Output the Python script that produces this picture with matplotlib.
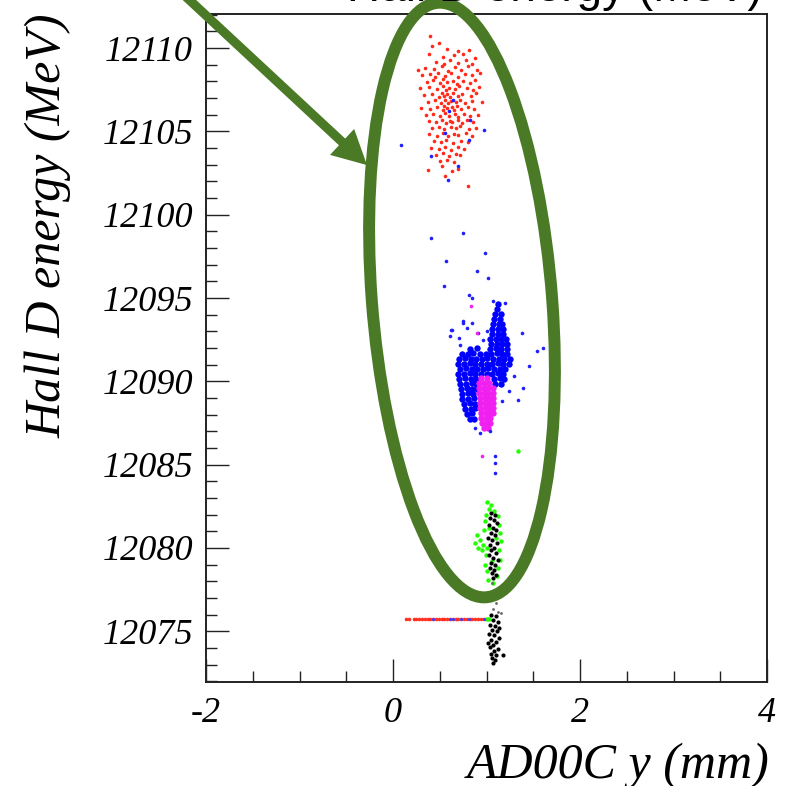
import numpy as np
import matplotlib
matplotlib.use("Agg")
import matplotlib.pyplot as plt
from matplotlib.patches import Ellipse
from matplotlib.ticker import MultipleLocator

## DATA (x = AD00C y in mm, y = Hall D energy in MeV)

red_pts = [
    (0.40, 12110.72), (0.42, 12110.15), (0.49, 12110.28),
    (0.58, 12109.95), (0.70, 12109.82), (0.81, 12109.91),
    (0.38, 12109.62), (0.53, 12109.48), (0.65, 12109.58), (0.75, 12109.66), (0.88, 12109.41),
    (0.46, 12109.18), (0.55, 12109.05), (0.61, 12109.27), (0.69, 12109.12), (0.78, 12109.31), (0.84, 12109.02),
    (0.27, 12108.71), (0.34, 12108.83), (0.44, 12108.76), (0.52, 12108.91), (0.59, 12108.64), (0.66, 12108.87),
    (0.73, 12108.70), (0.80, 12108.95), (0.90, 12108.66),
    (0.31, 12108.38), (0.40, 12108.47), (0.45, 12108.25), (0.48, 12108.52), (0.56, 12108.33), (0.62, 12108.49),
    (0.70, 12108.28), (0.77, 12108.42), (0.85, 12108.36), (0.93, 12108.51),
    (0.36, 12107.95), (0.43, 12108.08), (0.50, 12107.89), (0.54, 12108.12), (0.58, 12107.97), (0.64, 12108.05),
    (0.68, 12107.84), (0.75, 12108.02), (0.82, 12107.91), (0.88, 12108.10),
    (0.29, 12107.58), (0.39, 12107.66), (0.47, 12107.52), (0.53, 12107.71), (0.57, 12107.48), (0.60, 12107.63),
    (0.66, 12107.55), (0.71, 12107.74), (0.79, 12107.60), (0.86, 12107.49), (0.92, 12107.68),
    (0.33, 12107.18), (0.42, 12107.26), (0.49, 12107.09), (0.52, 12107.31), (0.55, 12107.15), (0.58, 12107.24),
    (0.61, 12107.05), (0.64, 12107.28), (0.69, 12107.13), (0.74, 12107.22), (0.83, 12107.10), (0.89, 12107.29),
    (0.37, 12106.79), (0.45, 12106.86), (0.51, 12106.72), (0.56, 12106.91), (0.59, 12106.68), (0.62, 12106.83),
    (0.67, 12106.75), (0.72, 12106.88), (0.77, 12106.70), (0.84, 12106.82), (0.95, 12106.74),
    (0.30, 12106.42), (0.40, 12106.35), (0.47, 12106.48), (0.53, 12106.31), (0.55, 12106.52), (0.58, 12106.39),
    (0.63, 12106.45), (0.65, 12106.28), (0.68, 12106.50), (0.73, 12106.37), (0.80, 12106.44), (0.87, 12106.33),
    (0.35, 12105.98), (0.43, 12106.05), (0.50, 12105.92), (0.56, 12106.08), (0.60, 12105.95), (0.66, 12106.02),
    (0.70, 12105.89), (0.76, 12106.06), (0.82, 12105.94), (0.91, 12106.01),
    (0.39, 12105.62), (0.46, 12105.55), (0.52, 12105.68), (0.57, 12105.51), (0.61, 12105.64), (0.63, 12105.58),
    (0.69, 12105.70), (0.74, 12105.53), (0.79, 12105.66), (0.86, 12105.57),
    (0.42, 12105.21), (0.49, 12105.28), (0.55, 12105.14), (0.62, 12105.25), (0.67, 12105.18), (0.72, 12105.30),
    (0.81, 12105.16), (0.89, 12105.23),
    (0.38, 12104.82), (0.47, 12104.75), (0.53, 12104.88), (0.59, 12104.71), (0.65, 12104.84), (0.70, 12104.77),
    (0.78, 12104.90), (0.84, 12104.73),
    (0.44, 12104.42), (0.51, 12104.35), (0.57, 12104.48), (0.64, 12104.31), (0.73, 12104.44), (0.80, 12104.38),
    (0.41, 12104.02), (0.49, 12103.95), (0.56, 12104.08), (0.62, 12103.91), (0.69, 12104.04), (0.76, 12103.97),
    (0.46, 12103.61), (0.53, 12103.68), (0.60, 12103.55), (0.67, 12103.64), (0.72, 12103.58),
    (0.50, 12103.21), (0.58, 12103.28), (0.65, 12103.15),
    (0.37, 12102.70), (0.52, 12102.90), (0.63, 12102.62), (0.70, 12102.72),
    (0.56, 12102.30), (0.80, 12101.72),
]

# scattered blue hits (around the red cloud and above the main blob)
blue_sparse = [
    (0.645, 12106.9), (0.60, 12106.2), (0.82, 12105.7), (0.97, 12105.1), (0.56, 12104.9),
    (0.81, 12104.5), (0.41, 12103.5), (0.69, 12102.9), (0.59, 12102.1), (0.086, 12104.2),
    (0.41, 12098.6), (0.75, 12098.9), (0.98, 12097.7), (0.57, 12097.2), (0.90, 12096.6),
    (1.02, 12096.2), (0.55, 12095.7), (0.81, 12095.2), (0.85, 12095.0), (1.07, 12094.8),
    (1.20, 12094.7), (0.75, 12093.6), (0.63, 12093.1), (1.38, 12092.9),
    (0.62, 12093.1), (0.61, 12092.7), (0.71, 12092.6), (0.72, 12092.2), (0.75, 12093.5),
    (0.84, 12093.5), (0.79, 12093.2), (0.91, 12092.9), (1.00, 12093.0), (0.96, 12092.5),
    (1.54, 12091.8), (1.60, 12092.0), (1.45, 12090.9), (1.39, 12089.6), (1.34, 12088.9),
    (1.24, 12089.4), (1.29, 12090.3), (1.17, 12088.8),
    (0.88, 12087.2), (0.93, 12086.9), (1.04, 12087.0),
    (1.09, 12085.5), (1.09, 12085.1), (1.09, 12084.5),
]

# dense blue blob near 12090 MeV
blue_dense = [
    (0.74, 12091.65), (0.80, 12091.62), (0.86, 12091.68), (0.93, 12091.64), (0.99, 12091.66), (1.05, 12091.63),
    (1.11, 12091.67), (1.17, 12091.64), (1.22, 12091.61),
    (0.71, 12091.35), (0.77, 12091.37), (0.83, 12091.33), (0.89, 12091.36), (0.95, 12091.34), (1.01, 12091.38),
    (1.07, 12091.35), (1.13, 12091.32), (1.19, 12091.36), (1.25, 12091.34),
    (0.70, 12091.05), (0.76, 12091.03), (0.82, 12091.07), (0.88, 12091.04), (0.94, 12091.06), (1.00, 12091.02),
    (1.06, 12091.05), (1.12, 12091.08), (1.18, 12091.04), (1.24, 12091.06),
    (0.72, 12090.75), (0.78, 12090.77), (0.84, 12090.73), (0.90, 12090.76), (0.96, 12090.74), (1.02, 12090.78),
    (1.08, 12090.75), (1.14, 12090.72), (1.20, 12090.76),
    (0.70, 12090.45), (0.76, 12090.43), (0.82, 12090.47), (0.88, 12090.44), (0.94, 12090.46), (1.00, 12090.42),
    (1.06, 12090.45), (1.12, 12090.48), (1.18, 12090.44),
    (0.71, 12090.15), (0.77, 12090.17), (0.83, 12090.13), (0.89, 12090.16), (1.08, 12090.14), (1.14, 12090.18),
    (1.19, 12090.12),
    (0.72, 12089.85), (0.78, 12089.83), (0.84, 12089.87), (0.89, 12089.84), (1.09, 12089.86), (1.15, 12089.82),
    (0.73, 12089.55), (0.79, 12089.57), (0.85, 12089.53), (0.90, 12089.56),
    (0.74, 12089.25), (0.80, 12089.27), (0.86, 12089.23),
    (0.74, 12088.95), (0.80, 12088.93), (0.87, 12088.97),
    (0.76, 12088.65), (0.82, 12088.67), (0.88, 12088.63),
    (0.77, 12088.35), (0.83, 12088.33), (0.88, 12088.37),
    (0.79, 12088.05), (0.85, 12088.07),
    (0.82, 12087.75), (0.87, 12087.72),
    # upper column
    (1.04, 12091.95), (1.10, 12091.97), (1.16, 12091.93), (1.22, 12091.96), (0.82, 12091.94), (0.90, 12091.98),
    (1.05, 12092.25), (1.11, 12092.27), (1.17, 12092.23), (1.22, 12092.26),
    (1.04, 12092.55), (1.10, 12092.57), (1.16, 12092.53), (1.21, 12092.56),
    (1.06, 12092.85), (1.12, 12092.83), (1.18, 12092.87),
    (1.06, 12093.15), (1.12, 12093.17), (1.18, 12093.13),
    (1.07, 12093.45), (1.13, 12093.43), (1.17, 12093.47),
    (1.08, 12093.75), (1.14, 12093.77),
    (1.09, 12094.05), (1.15, 12094.03),
    (1.11, 12094.35), (1.12, 12094.65),
]

magenta_dense = [
    (0.94, 12090.2), (1.00, 12090.2),
    (0.92, 12089.9), (0.97, 12089.9), (1.03, 12089.9),
    (0.92, 12089.6), (0.97, 12089.6), (1.02, 12089.6), (1.07, 12089.6),
    (0.92, 12089.3), (0.97, 12089.3), (1.02, 12089.3), (1.07, 12089.3),
    (0.93, 12089.0), (0.98, 12089.0), (1.03, 12089.0), (1.07, 12089.0),
    (0.93, 12088.7), (0.98, 12088.7), (1.03, 12088.7), (1.07, 12088.7),
    (0.93, 12088.4), (0.98, 12088.4), (1.03, 12088.4), (1.07, 12088.4),
    (0.94, 12088.1), (0.99, 12088.1), (1.04, 12088.1), (1.07, 12088.1),
    (0.94, 12087.8), (0.99, 12087.8), (1.04, 12087.8),
    (0.95, 12087.5), (1.00, 12087.5), (1.04, 12087.5),
    (0.97, 12087.2), (1.02, 12087.2),
]
magenta_sparse = [(0.83, 12094.5), (0.90, 12092.9), (0.95, 12085.5)]

green_pts = [
    (1.01, 12082.75), (1.05, 12082.6), (1.03, 12082.35), (1.08, 12082.2), (0.99, 12082.0), (1.12, 12081.9),
    (0.98, 12081.6), (1.13, 12081.4), (0.97, 12081.1), (1.14, 12080.9), (0.90, 12080.75), (0.93, 12080.5),
    (0.88, 12080.3), (0.96, 12080.2), (0.91, 12080.0), (0.95, 12079.85), (1.15, 12080.4), (1.13, 12079.9),
    (0.99, 12079.6), (1.14, 12079.3), (0.98, 12079.0), (1.12, 12078.8), (1.00, 12078.6), (1.11, 12078.3),
    (1.02, 12078.1), (1.07, 12077.9), (1.03, 12081.2), (1.10, 12080.6), (1.01, 12080.0), (1.06, 12079.2),
    (1.34, 12085.8), (1.00, 12075.74), (1.03, 12075.74),
]

black_pts = [
    # column inside the green hits
    (1.05, 12082.1), (1.09, 12081.95), (1.04, 12081.8), (1.08, 12081.65), (1.11, 12081.5), (1.03, 12081.35),
    (1.07, 12081.2), (1.10, 12081.05), (1.05, 12080.9), (1.09, 12080.75), (1.02, 12080.6), (1.06, 12080.45),
    (1.11, 12080.3), (1.04, 12080.15), (1.08, 12080.0), (1.05, 12079.85), (1.10, 12079.7), (1.03, 12079.55),
    (1.07, 12079.4), (1.12, 12079.25), (1.05, 12079.1), (1.09, 12078.95), (1.04, 12078.8), (1.08, 12078.65),
    (1.06, 12078.5), (1.10, 12078.35), (1.07, 12078.2),
    # column below the red row
    (1.05, 12076.0), (1.10, 12075.9), (1.07, 12075.7), (1.12, 12075.55), (1.04, 12075.4), (1.09, 12075.3),
    (1.06, 12075.1), (1.11, 12075.0), (1.03, 12074.85), (1.08, 12074.75), (1.13, 12074.6), (1.05, 12074.5),
    (1.10, 12074.35), (1.07, 12074.2), (1.04, 12074.05), (1.12, 12073.95), (1.08, 12073.8), (1.05, 12073.65),
    (1.10, 12073.55), (1.06, 12073.4), (1.09, 12073.25), (1.07, 12073.1), (1.18, 12073.6), (1.13, 12075.2),
    (1.02, 12074.3),
]
gray_pts = [(1.06, 12077.9), (1.08, 12077.5), (1.09, 12077.1), (1.10, 12076.7), (1.07, 12076.35),
            (1.15, 12076.1), (1.12, 12076.15)]

# red row at 12075.7 MeV
red_row_x = [0.14, 0.17, 0.22, 0.25, 0.28, 0.31, 0.34, 0.37, 0.40, 0.43, 0.46, 0.49, 0.52, 0.55,
             0.58, 0.61, 0.64, 0.67, 0.70, 0.73, 0.76, 0.79, 0.82, 0.85, 0.88, 0.91, 0.94, 0.97]
red_row_e = 12075.74
blue_row_x = [0.43, 0.61, 0.64, 0.73, 0.81, 0.97]

x_ticks = [-2, 0, 2, 4]
y_ticks = [12075, 12080, 12085, 12090, 12095, 12100, 12105, 12110]

GREEN = '#4b7a26'

plt.rcParams['font.family'] = 'Liberation Serif'
plt.rcParams['font.style'] = 'italic'
plt.rcParams['axes.unicode_minus'] = False

fig = plt.figure(figsize=(7.85, 7.86), dpi=100)
ax = fig.add_axes([206/785, 1 - 682/786, 561/785, 668/786])


def dots(pts, color, ms, z=3):
    p = np.array(pts)
    ax.plot(p[:, 0], p[:, 1], 'o', ms=ms, mew=0, color=color, zorder=z)


dots(red_pts, '#ff2a1a', 2.6)
dots(blue_dense, '#0000ff', 4.6)
dots(magenta_dense, '#f020f0', 4.6)
dots(blue_sparse, '#2020ff', 2.6)
dots(magenta_sparse, '#f020f0', 2.6)
dots(green_pts, '#22ff00', 3.2)
dots(black_pts, 'black', 3.0)
dots(gray_pts, '#666666', 2.0)
ax.plot(red_row_x, [red_row_e] * len(red_row_x), 'o', ms=2.6, mew=0, color='#ff3020', zorder=3)
ax.plot(blue_row_x, [red_row_e] * len(blue_row_x), 'o', ms=2.2, mew=0, color='#4040ff', zorder=3)

# ellipse drawn around all the hits
ell = Ellipse((0.738, 12094.88), width=1.93, height=35.7, angle=0.76,
              fill=False, ec=GREEN, lw=8.6, clip_on=False, zorder=4)
ax.add_patch(ell)

ax.annotate('', xy=(-0.278, 12102.98), xytext=(-2.62, 12115.2),
            annotation_clip=False,
            arrowprops=dict(arrowstyle='simple,head_length=2.45,head_width=2.55,tail_width=0.66',
                            mutation_scale=10, fc=GREEN, ec='none', lw=0,
                            shrinkA=0, shrinkB=0, clip_on=False),
            zorder=5)

ax.set_xlim(-2, 4)
ax.set_ylim(12071.95, 12112.05)
ax.set_xticks(x_ticks)
ax.set_yticks(y_ticks)
ax.xaxis.set_minor_locator(MultipleLocator(0.5))
ax.yaxis.set_minor_locator(MultipleLocator(1))
ax.tick_params(which='both', direction='in', top=False, right=False, width=1.0, color='#222222')
ax.tick_params(which='major', length=16.5, labelsize=26)
ax.tick_params(which='minor', length=8)
ax.tick_params(axis='x', pad=11)
ax.tick_params(axis='y', pad=9.4)
for s in ax.spines.values():
    s.set_linewidth(1.4)
    s.set_color('#222222')

ax.set_ylabel('Hall D energy (MeV)', fontsize=36, loc='top')
ax.yaxis.set_label_coords(-0.239, 1.0)
ax.set_xlabel('AD00C y (mm)', fontsize=36, loc='right')
ax.xaxis.label.set_va('baseline')
ax.xaxis.set_label_coords(1.0053, -0.1437)

fig.text(763/785, 1 - 1/786, 'Hall D energy (MeV)', ha='right', va='baseline',
         fontsize=33, family='Liberation Sans', style='normal')

fig.savefig('out.png', dpi=100)
